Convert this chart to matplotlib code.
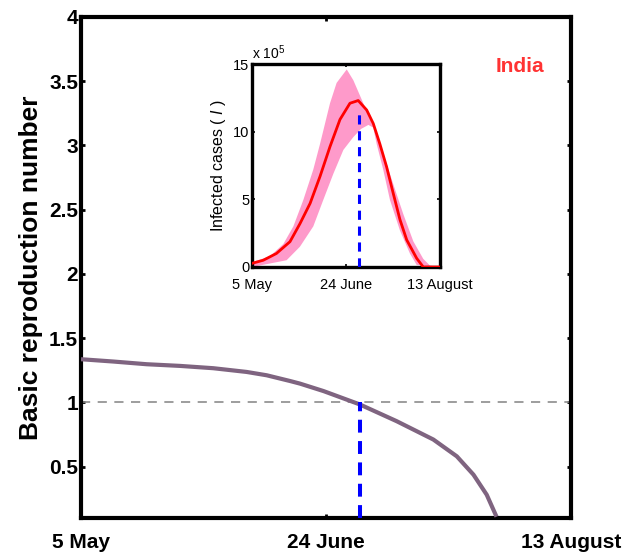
import numpy as np
import matplotlib
matplotlib.use("Agg")
import matplotlib.pyplot as plt
from matplotlib.ticker import FuncFormatter

plt.rcParams['font.family'] = ['Liberation Sans', 'DejaVu Sans']
plt.rcParams['mathtext.fontset'] = 'custom'
plt.rcParams['mathtext.rm'] = 'Liberation Sans'
plt.rcParams['mathtext.it'] = 'Liberation Sans:italic'

# ---------------- data ----------------
# days since 5 May
x_tick_pos = [0, 50, 100]
x_tick_labels = ['5 May', '24 June', '13 August']

R_days = [0, 6.6, 13.4, 20.2, 27, 33.8, 37.9, 42.7, 44.7, 49.5, 56.9, 64.4,
          71.9, 76.7, 80.1, 82.8, 84.8]
R_vals = [1.336, 1.318, 1.297, 1.284, 1.266, 1.237, 1.211, 1.166, 1.146, 1.088,
          0.984, 0.854, 0.711, 0.58, 0.437, 0.281, 0.11]
R_threshold = 1.0
turn_day = 57

main_yticks = [0.5, 1, 1.5, 2, 2.5, 3, 3.5, 4]

# infected cases (x 10^5)
I_days = [0, 6, 13, 20.2, 25.5, 30.9, 36.2, 41.5, 46.8, 52.1, 56.5, 61, 64.5,
          68, 71.6, 75.2, 78.7, 82.3, 87.6, 91.1, 100]
I_mean = [0.27, 0.5, 1.0, 1.87, 3.2, 4.7, 6.7, 8.9, 10.9, 12.1, 12.3, 11.6, 10.6,
          9.1, 7.4, 5.4, 3.5, 2.0, 0.64, 0.0, 0.0]

upper_days = [0, 9.6, 16.7, 22, 27.3, 32.6, 36.2, 41.5, 45, 50.4, 53.9, 59.2,
              64.5, 69.8, 75.2, 80.5, 85.8, 91.1, 94.7, 100]
upper_vals = [0.35, 0.8, 1.7, 3.0, 4.95, 7.2, 9.1, 12.1, 13.6, 14.6, 13.8, 12.1,
              10.4, 8.4, 6.1, 3.9, 1.9, 0.6, 0.1, 0]

lower_days = [0, 18.4, 25.5, 32.6, 37.9, 43.3, 48.6, 53.9, 58, 61.9, 64.5, 66.3,
              69.8, 73.4, 78.7, 84, 87.6, 100]
lower_vals = [0, 0.5, 1.5, 3.0, 4.95, 6.9, 8.65, 9.6, 10.2, 10.5, 10.3, 9.1,
              7.2, 4.95, 2.7, 1.0, 0.15, 0]

peak_I_line_top = 11.6
inset_yticks = [0, 5, 10, 15]

# ---------------- figure ----------------
fig = plt.figure(figsize=(6.37, 5.56), dpi=100)

ax = fig.add_axes([81/637, 1 - 518/556, (571-81)/637, (518-17)/556])
ax.plot(R_days, R_vals, color='#7f6480', lw=3.0, solid_capstyle='butt',
        solid_joinstyle='round', zorder=3)
ax.axhline(R_threshold, color='#8c8c8c', lw=1.2, dashes=(5.5, 4.5), zorder=2)
ax.plot([turn_day, turn_day], [0.1, R_threshold], color='#0000ff', lw=2.9,
        dashes=(3.2, 2.1), zorder=4)
ax.set_xlim(0, 100)
ax.set_ylim(0.1, 4)
ax.set_xticks(x_tick_pos)
ax.set_xticklabels(x_tick_labels)
ax.set_yticks(main_yticks)
ax.yaxis.set_major_formatter(FuncFormatter(lambda v, p: '%g' % v))
for s in ax.spines.values():
    s.set_linewidth(3)
ax.tick_params(direction='in', length=3, width=2, top=True, right=True,
               labelsize=15)
ax.tick_params(axis='x', pad=11)
ax.tick_params(axis='y', pad=2)
for lab in ax.get_xticklabels() + ax.get_yticklabels():
    lab.set_fontweight('bold')
ax.set_ylabel('Basic reproduction number', fontsize=19, fontweight='bold')
ax.yaxis.set_label_coords(-0.077, 0.5)

# ---------------- inset ----------------
ax_in = fig.add_axes([252/637, 1 - 267/556, (440-252)/637, (267-64)/556])
band_x = np.concatenate([upper_days, lower_days[::-1]])
band_y = np.concatenate([upper_vals, lower_vals[::-1]])
ax_in.fill(band_x, band_y, color='#fe9aca', lw=0, zorder=1)
ax_in.plot(I_days, I_mean, color='#ff0000', lw=2.0, solid_joinstyle='round',
           zorder=3)
ax_in.plot([turn_day, turn_day], [0, peak_I_line_top], color='#0000ff', lw=2.2,
           dashes=(3, 2.2), zorder=4)
ax_in.set_xlim(0, 100)
ax_in.set_ylim(0, 15)
ax_in.set_xticks(x_tick_pos)
ax_in.set_xticklabels(x_tick_labels)
ax_in.set_yticks(inset_yticks)
for s in ax_in.spines.values():
    s.set_linewidth(2.4)
ax_in.tick_params(direction='in', length=2, width=1.2, top=True, right=True,
                  labelsize=10.5)
ax_in.tick_params(axis='x', pad=8)
ax_in.tick_params(axis='y', pad=2)
ax_in.set_ylabel('Infected cases ( $\\mathit{I}$ )', fontsize=11.5)
ax_in.yaxis.set_label_coords(-0.13, 0.5)
ax_in.text(0.0, 1.01, 'x 10$^5$', transform=ax_in.transAxes, ha='left',
           va='bottom', fontsize=10)

fig.text(520/637, 1 - 66/556, 'India', color='#ff3333', fontsize=15,
         fontweight='bold', ha='center', va='center')

fig.savefig('out.png', dpi=100)
